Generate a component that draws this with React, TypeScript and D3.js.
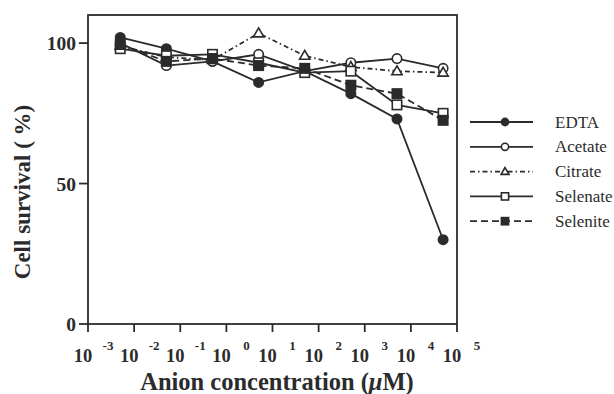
import React from "react";
import * as d3 from "d3";

const concentrations = [0.005, 0.05, 0.5, 5, 50, 500, 5000, 50000];
const edta = [102, 98, 93.5, 86, 90, 82, 73, 30];
const acetate = [100, 92, 93.5, 96, 90, 93, 94.5, 91];
const citrate = [99, 95, 94, 103.5, 95.5, 91.5, 90, 89.5];
const selenate = [98, 95.5, 96, 93, 89.5, 90, 78, 75];
const selenite = [99.5, 93.5, 94.5, 92, 91, 85, 82, 72.5];
const xTickExps = [-3, -2, -1, 0, 1, 2, 3, 4, 5];
const yTicks = [0, 50, 100];

type Series = { name: string; values: number[]; marker: string; filled: boolean; dash: string };
const seriesList: Series[] = [
  { name: "EDTA", values: edta, marker: "circle", filled: true, dash: "" },
  { name: "Acetate", values: acetate, marker: "circle", filled: false, dash: "" },
  { name: "Citrate", values: citrate, marker: "triangle", filled: false, dash: "5,3,1.5,3" },
  { name: "Selenate", values: selenate, marker: "square", filled: false, dash: "" },
  { name: "Selenite", values: selenite, marker: "square", filled: true, dash: "7,4" },
];

const W = 614, H = 394;
const L = 88, R = 457, T = 15, B = 324;
const INK = "#2b2b2b";
const FONT = "'Liberation Serif', 'Times New Roman', serif";

function Marker({ s, x, y, size }: { s: Series; x: number; y: number; size: number }) {
  const fill = s.filled ? INK : "#fff";
  if (s.marker === "circle") return <circle cx={x} cy={y} r={size} fill={fill} stroke={INK} strokeWidth={1.6} />;
  if (s.marker === "square") return <rect x={x - size} y={y - size} width={size * 2} height={size * 2} fill={fill} stroke={INK} strokeWidth={1.6} />;
  const h = size * 1.9;
  const pts = `${x},${y - h * 0.6} ${x - size * 1.1},${y + h * 0.4} ${x + size * 1.1},${y + h * 0.4}`;
  return <polygon points={pts} fill={fill} stroke={INK} strokeWidth={1.6} />;
}

export default function App() {
  const x = d3.scaleLog().domain([1e-3, 1e5]).range([L, R]);
  const y = d3.scaleLinear().domain([0, 110]).range([B, T]);
  const line = d3.line<number>().x((_, i) => x(concentrations[i])).y((v) => y(v));
  const legendY = (i: number) => 122 + i * 24.8;

  return (
    <svg width={W} height={H} style={{ position: "absolute", left: 0, top: 0, background: "#fff" }} fontFamily={FONT}>
      <rect x={0} y={0} width={W} height={H} fill="#fff" />
      <rect x={L} y={T} width={R - L} height={B - T} fill="none" stroke={INK} strokeWidth={1.8} />
      {yTicks.map((t) => (
        <g key={t}>
          <line x1={L - 9} x2={L} y1={y(t)} y2={y(t)} stroke={INK} strokeWidth={1.8} />
          <text x={76} y={y(t) + 7} textAnchor="end" fontSize={19.5} fontWeight="bold" fill={INK}>{t}</text>
        </g>
      ))}
      {xTickExps.map((e) => {
        const px = x(Math.pow(10, e));
        return (
          <g key={e}>
            <line x1={px} x2={px} y1={B} y2={B + 8} stroke={INK} strokeWidth={1.8} />
            <text x={px - 5} y={362} textAnchor="middle" fontSize={18.5} fontWeight="bold" fill={INK}>10</text>
            <text x={px + 20} y={350} textAnchor="middle" fontSize={13} fontWeight="bold" fill={INK}>{e}</text>
          </g>
        );
      })}
      <text x={277} y={390} textAnchor="middle" fontSize={24.5} fontWeight="bold" fill={INK}>
        Anion concentration (<tspan fontStyle="italic">μ</tspan>M)
      </text>
      <text transform={`translate(30,192) rotate(-90)`} textAnchor="middle" fontSize={23} fontWeight="bold" fill={INK}>
        Cell survival ( %)
      </text>
      {seriesList.map((s) => (
        <g key={s.name}>
          <path d={line(s.values) || ""} fill="none" stroke={INK} strokeWidth={1.8} strokeDasharray={s.dash} />
          {s.values.map((v, i) => (
            <Marker key={i} s={s} x={x(concentrations[i])} y={y(v)} size={4.7} />
          ))}
        </g>
      ))}
      {seriesList.map((s, i) => (
        <g key={s.name}>
          <line x1={470} x2={533} y1={legendY(i)} y2={legendY(i)} stroke={INK} strokeWidth={1.8} strokeDasharray={s.dash} />
          <Marker s={s} x={505} y={legendY(i)} size={3.6} />
          <text x={555} y={legendY(i) + 5.5} fontSize={17} fill={INK}>{s.name}</text>
        </g>
      ))}
    </svg>
  );
}
